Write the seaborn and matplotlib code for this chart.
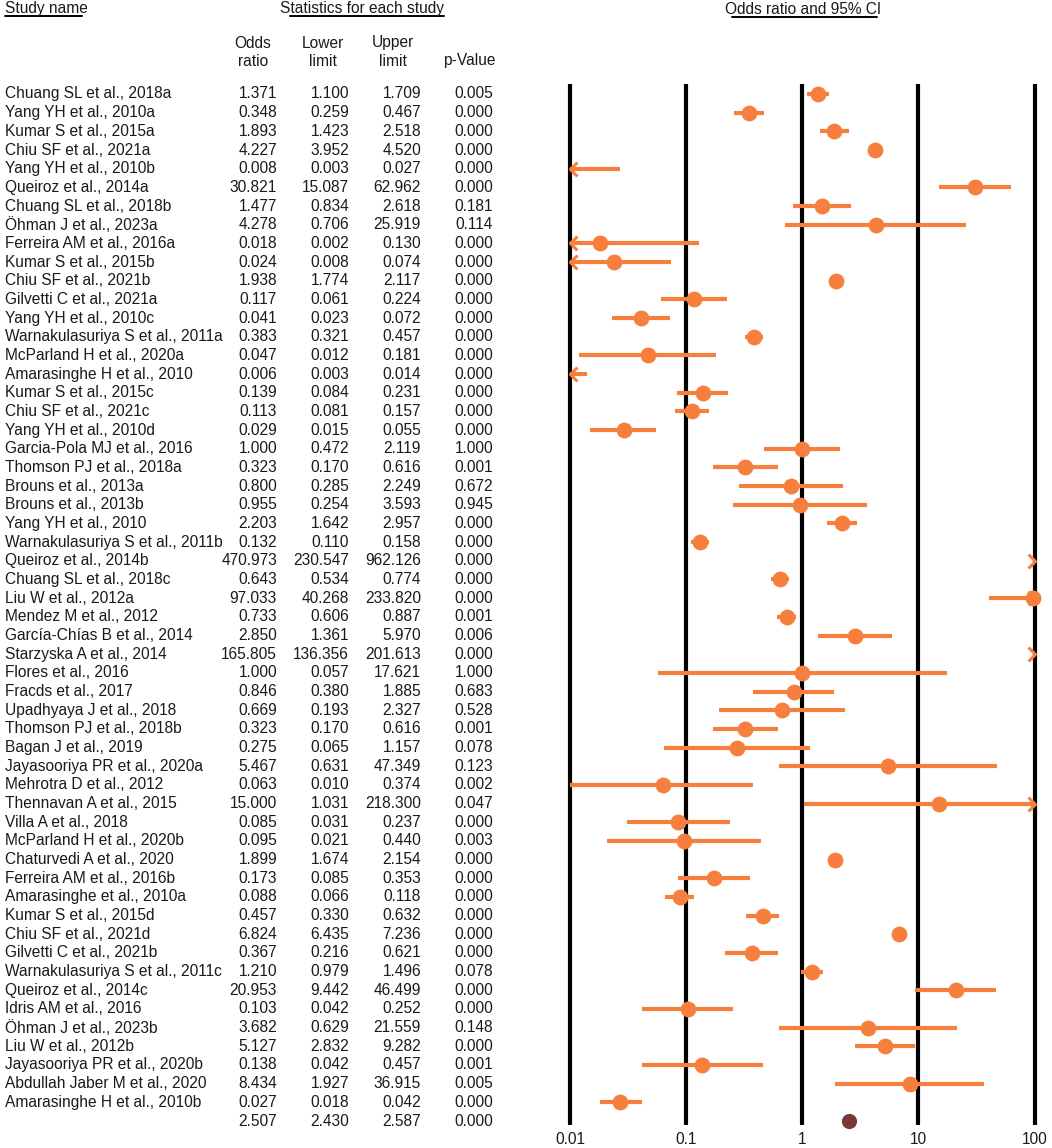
import numpy as np
import pandas as pd
import matplotlib
matplotlib.use("Agg")
import matplotlib.pyplot as plt
import seaborn as sns
from matplotlib.lines import Line2D

# ---- data ----
studies = [
    "Chuang SL et al., 2018a", "Yang YH et al., 2010a", "Kumar S et al., 2015a",
    "Chiu SF et al., 2021a", "Yang YH et al., 2010b", "Queiroz et al., 2014a",
    "Chuang SL et al., 2018b", "Öhman J et al., 2023a", "Ferreira AM et al., 2016a",
    "Kumar S et al., 2015b", "Chiu SF et al., 2021b", "Gilvetti C et al., 2021a",
    "Yang YH et al., 2010c", "Warnakulasuriya S et al., 2011a", "McParland H et al., 2020a",
    "Amarasinghe H et al., 2010", "Kumar S et al., 2015c", "Chiu SF et al., 2021c",
    "Yang YH et al., 2010d", "Garcia-Pola MJ et al., 2016", "Thomson PJ et al., 2018a",
    "Brouns et al., 2013a", "Brouns et al., 2013b", "Yang YH et al., 2010",
    "Warnakulasuriya S et al., 2011b", "Queiroz et al., 2014b", "Chuang SL et al., 2018c",
    "Liu W et al., 2012a", "Mendez M et al., 2012", "García-Chías B et al., 2014",
    "Starzyska A et al., 2014", "Flores et al., 2016", "Fracds et al., 2017",
    "Upadhyaya J et al., 2018", "Thomson PJ et al., 2018b", "Bagan J et al., 2019",
    "Jayasooriya PR et al., 2020a", "Mehrotra D et al., 2012", "Thennavan A et al., 2015",
    "Villa A et al., 2018", "McParland H et al., 2020b", "Chaturvedi A et al., 2020",
    "Ferreira AM et al., 2016b", "Amarasinghe et al., 2010a", "Kumar S et al., 2015d",
    "Chiu SF et al., 2021d", "Gilvetti C et al., 2021b", "Warnakulasuriya S et al., 2011c",
    "Queiroz et al., 2014c", "Idris AM et al., 2016", "Öhman J et al., 2023b",
    "Liu W et al., 2012b", "Jayasooriya PR et al., 2020b", "Abdullah Jaber M et al., 2020",
    "Amarasinghe H et al., 2010b",
]
odds = [1.371, 0.348, 1.893, 4.227, 0.008, 30.821, 1.477, 4.278, 0.018, 0.024,
        1.938, 0.117, 0.041, 0.383, 0.047, 0.006, 0.139, 0.113, 0.029, 1.000,
        0.323, 0.800, 0.955, 2.203, 0.132, 470.973, 0.643, 97.033, 0.733, 2.850,
        165.805, 1.000, 0.846, 0.669, 0.323, 0.275, 5.467, 0.063, 15.000, 0.085,
        0.095, 1.899, 0.173, 0.088, 0.457, 6.824, 0.367, 1.210, 20.953, 0.103,
        3.682, 5.127, 0.138, 8.434, 0.027]
lower = [1.100, 0.259, 1.423, 3.952, 0.003, 15.087, 0.834, 0.706, 0.002, 0.008,
         1.774, 0.061, 0.023, 0.321, 0.012, 0.003, 0.084, 0.081, 0.015, 0.472,
         0.170, 0.285, 0.254, 1.642, 0.110, 230.547, 0.534, 40.268, 0.606, 1.361,
         136.356, 0.057, 0.380, 0.193, 0.170, 0.065, 0.631, 0.010, 1.031, 0.031,
         0.021, 1.674, 0.085, 0.066, 0.330, 6.435, 0.216, 0.979, 9.442, 0.042,
         0.629, 2.832, 0.042, 1.927, 0.018]
upper = [1.709, 0.467, 2.518, 4.520, 0.027, 62.962, 2.618, 25.919, 0.130, 0.074,
         2.117, 0.224, 0.072, 0.457, 0.181, 0.014, 0.231, 0.157, 0.055, 2.119,
         0.616, 2.249, 3.593, 2.957, 0.158, 962.126, 0.774, 233.820, 0.887, 5.970,
         201.613, 17.621, 1.885, 2.327, 0.616, 1.157, 47.349, 0.374, 218.300, 0.237,
         0.440, 2.154, 0.353, 0.118, 0.632, 7.236, 0.621, 1.496, 46.499, 0.252,
         21.559, 9.282, 0.457, 36.915, 0.042]
pvals = [0.005, 0.000, 0.000, 0.000, 0.000, 0.000, 0.181, 0.114, 0.000, 0.000,
         0.000, 0.000, 0.000, 0.000, 0.000, 0.000, 0.000, 0.000, 0.000, 1.000,
         0.001, 0.672, 0.945, 0.000, 0.000, 0.000, 0.000, 0.000, 0.001, 0.006,
         0.000, 1.000, 0.683, 0.528, 0.001, 0.078, 0.123, 0.002, 0.047, 0.000,
         0.003, 0.000, 0.000, 0.000, 0.000, 0.000, 0.000, 0.078, 0.000, 0.000,
         0.148, 0.000, 0.001, 0.005, 0.000]
pooled = (2.507, 2.430, 2.587, 0.000)
xticks = [0.01, 0.1, 1, 10, 100]
xtick_labels = ["0.01", "0.1", "1", "10", "100"]

ORANGE = "#F77F3E"
POOLED = "#7A3838"
TXT = "#1a1a1a"

sns.set_theme(style="white")
plt.rcParams["font.family"] = ["Liberation Sans", "DejaVu Sans"]

W, H = 1052, 1148
fig = plt.figure(figsize=(W / 100, H / 100), dpi=100)


def rect(x0, y0, x1, y1):
    # pixel box (top-left origin) -> figure fraction [l, b, w, h]
    return [x0 / W, 1 - y1 / H, (x1 - x0) / W, (y1 - y0) / H]


def fx(x):
    return x / W


def fy(y):
    return 1 - y / H


n = len(studies)
row_top, row_bot = 94, 1121
step = (row_bot - row_top) / n
ylim = (n + (1125 - row_bot) / step, -(row_top - 84) / step)

# ---- forest panel ----
ax = fig.add_axes(rect(555, 84, 1048, 1125))
ax.set_xscale("log")
lo_lim, hi_lim = 0.01, 100
x_left = 10 ** (-2 - (570 - 555) / 116.2)
x_right = 10 ** (2 + (1048 - 1034.5) / 116.2)
ax.set_xlim(x_left, x_right)
ax.set_ylim(*ylim)

for t in xticks:
    ax.axvline(t, color="black", lw=3.0, zorder=1)

chev_l = [(1, 1), (0, 0), (1, -1)]
chev_r = [(-1, 1), (0, 0), (-1, -1)]
for i in range(n):
    lo_c, hi_c = max(lower[i], lo_lim), min(upper[i], hi_lim)
    if lo_c < hi_c:
        ax.hlines(i, lo_c, hi_c, color=ORANGE, lw=3, zorder=2)
    if lower[i] < lo_lim:
        ax.plot(lo_lim, i, marker=chev_l, ms=10, mfc="none", mec=ORANGE, mew=2.2,
                zorder=3, clip_on=False)
    if upper[i] > hi_lim:
        ax.plot(hi_lim, i, marker=chev_r, ms=10, mfc="none", mec=ORANGE, mew=2.2,
                zorder=3, clip_on=False)

df = pd.DataFrame({"study": studies, "odds": odds, "row": np.arange(n)})
vis = df[(df["odds"] >= lo_lim) & (df["odds"] <= hi_lim)]
sns.scatterplot(data=vis, x="odds", y="row", ax=ax, color=ORANGE, s=130,
                linewidth=0, zorder=4, clip_on=False)
sns.scatterplot(x=[pooled[0]], y=[n], ax=ax, color=POOLED, s=120, linewidth=0,
                zorder=4, clip_on=False)

ax.set_xticks(xticks)
ax.set_xticklabels(xtick_labels)
ax.minorticks_off()
ax.tick_params(axis="x", length=0, pad=5, labelsize=11.2, labelcolor=TXT)
ax.set_yticks([])
ax.set_xlabel("")
ax.set_ylabel("")
for s in ax.spines.values():
    s.set_visible(False)
ax.patch.set_alpha(0)

# ---- table panel ----
tab = fig.add_axes(rect(0, 84, 540, 1125))
tab.set_xlim(0, 540)
tab.set_ylim(*ylim)
tab.axis("off")

fs = 11.2
cols_x = [277, 349, 421, 493]
for i in range(n):
    tab.text(5, i, studies[i], ha="left", va="center", fontsize=fs, color=TXT)
    for cx, v in zip(cols_x, [odds[i], lower[i], upper[i], pvals[i]]):
        tab.text(cx, i, "%.3f" % v, ha="right", va="center", fontsize=fs, color=TXT)
for cx, v in zip(cols_x, pooled):
    tab.text(cx, n, "%.3f" % v, ha="right", va="center", fontsize=fs, color=TXT)

# ---- headers ----
fig.text(fx(5), fy(9), "Study name", ha="left", va="center", fontsize=fs, color=TXT)
fig.text(fx(362), fy(9), "Statistics for each study", ha="center", va="center",
         fontsize=fs, color=TXT)
fig.text(fx(803), fy(9), "Odds ratio and 95% CI", ha="center", va="center",
         fontsize=fs, color=TXT)
for x0, x1, y in [(5, 82, 16), (290, 444, 16), (732, 877, 17)]:
    fig.add_artist(Line2D([fx(x0), fx(x1)], [fy(y), fy(y)], color="black", lw=1.4))

for cx, top, bot in [(253, "Odds", "ratio"), (323, "Lower", "limit"),
                     (393, "Upper", "limit")]:
    fig.text(fx(cx), fy(43), top, ha="center", va="center", fontsize=fs, color=TXT)
    fig.text(fx(cx), fy(61), bot, ha="center", va="center", fontsize=fs, color=TXT)
fig.text(fx(469), fy(61), "p-Value", ha="center", va="center", fontsize=fs, color=TXT)

fig.savefig("out.png", dpi=100, facecolor="white")
